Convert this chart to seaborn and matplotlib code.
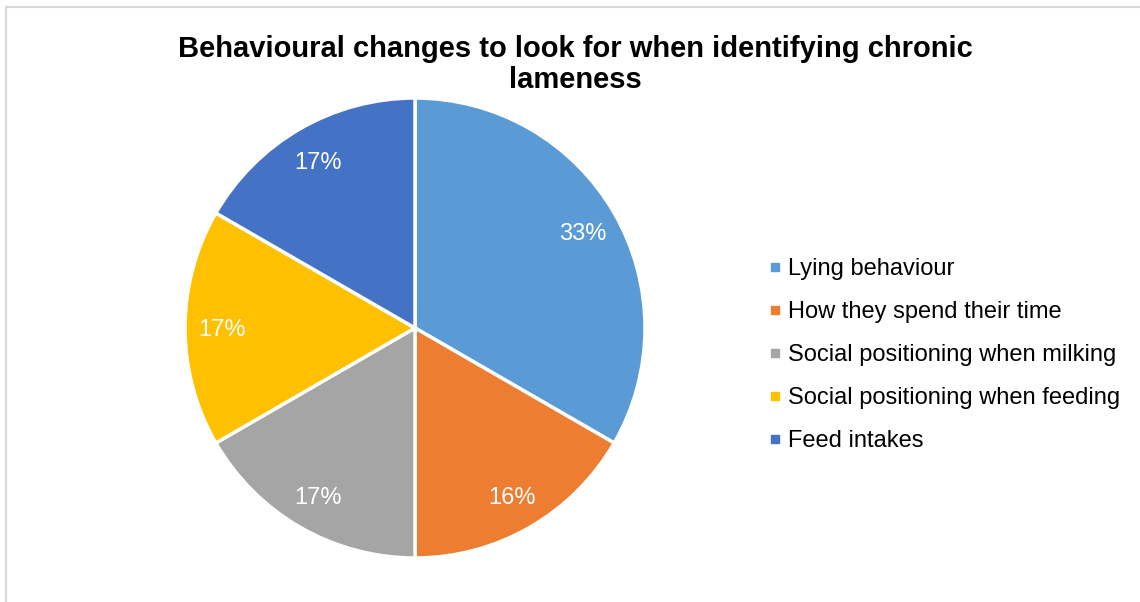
import matplotlib
matplotlib.use("Agg")
import matplotlib.pyplot as plt
import seaborn as sns
from matplotlib.lines import Line2D

sns.set_style("white")
plt.rcParams['font.family'] = ['Liberation Sans', 'DejaVu Sans']

labels = ["Lying behaviour", "How they spend their time", "Social positioning when milking",
          "Social positioning when feeding", "Feed intakes"]
values = [2, 1, 1, 1, 1]
pct_labels = ["33%", "16%", "17%", "17%", "17%"]
colors = sns.color_palette(["#5B9BD5", "#ED7D31", "#A5A5A5", "#FFC000", "#4472C4"])
title = "Behavioural changes to look for when identifying chronic\nlameness"

fig = plt.figure(figsize=(11.4, 6.02), dpi=100)
ax = fig.add_axes([0.1623, 0.0731, 0.4035, 0.7641])

wedges, texts = ax.pie(values, colors=colors, startangle=90, counterclock=False,
                       labels=pct_labels, labeldistance=0.84,
                       wedgeprops=dict(edgecolor="white", linewidth=2.5),
                       textprops=dict(color="white", fontsize=17, ha="center", va="center_baseline"))
ax.set_xlim(-1, 1)
ax.set_ylim(-1, 1)
ax.set_aspect("equal")

fig.text(0.5044, 0.893, title, ha="center", va="center", fontsize=21, fontweight="bold",
         color="#000000", linespacing=1.11)

handles = [Line2D([0], [0], marker="s", linestyle="", markersize=5.2, color=c) for c in colors]
fig.legend(handles, labels, loc="center left", bbox_to_anchor=(768 / 1140, 0.41), frameon=False,
           fontsize=17, handletextpad=0.25, labelspacing=0.89, handlelength=0.6,
           borderpad=0, borderaxespad=0, labelcolor="#000000")

# chart border (top and left edges visible)
fig.add_artist(Line2D([0.0053, 0.0053], [0, 0.988], color="#D9D9D9", lw=1.5, transform=fig.transFigure))
fig.add_artist(Line2D([0.0053, 1], [0.988, 0.988], color="#D9D9D9", lw=1.5, transform=fig.transFigure))

fig.savefig("out.png", dpi=100)
